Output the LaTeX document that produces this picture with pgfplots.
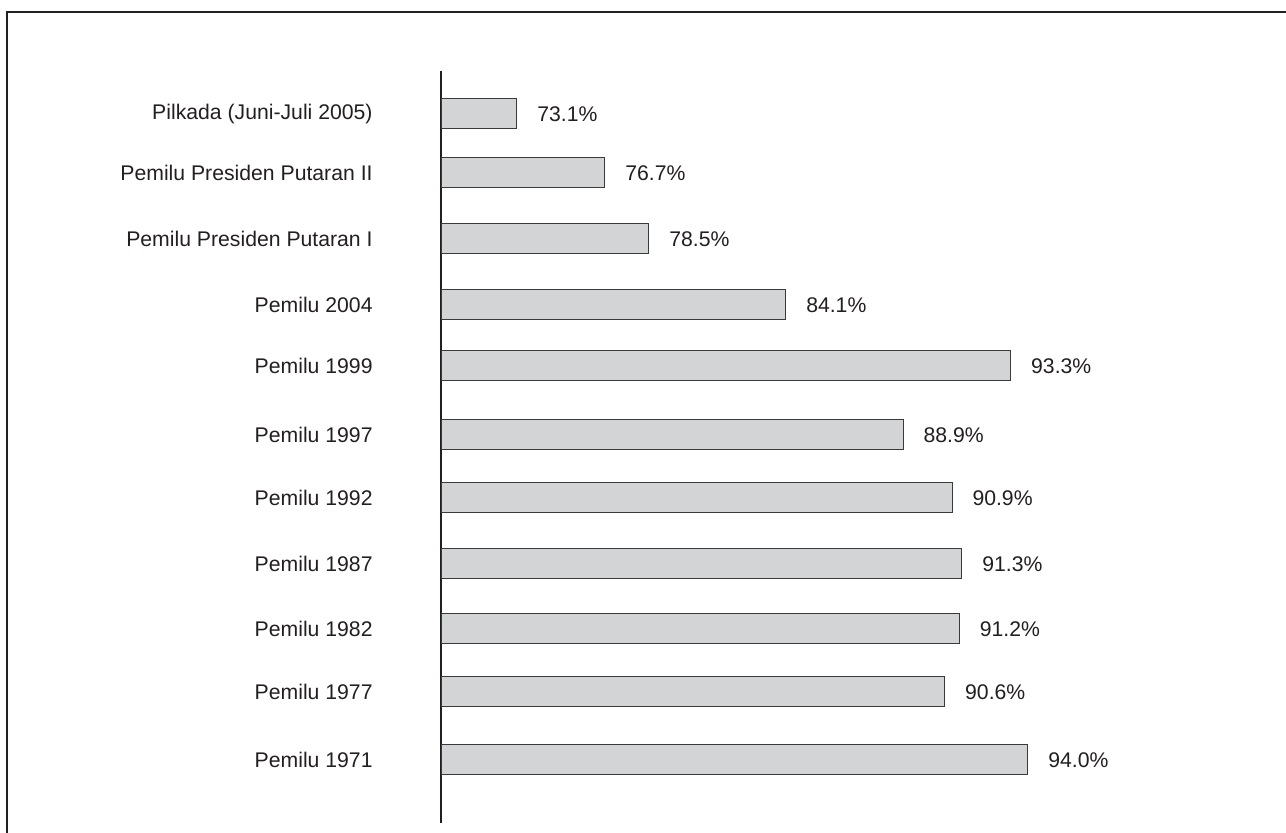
\documentclass[border=0pt]{standalone}
\usepackage{pgfplots}
\pgfplotsset{compat=1.18}
\usepackage{fontspec}
\setmainfont{Liberation Sans}
\definecolor{barfill}{HTML}{D3D4D6}
\definecolor{barline}{HTML}{3A3A3A}
\definecolor{ink}{HTML}{231F20}
\definecolor{axiscol}{HTML}{231F20}
\begin{document}
\begin{tikzpicture}
\begin{axis}[
  scale only axis,
  x=12.225pt, y=0.5pt, y dir=reverse,
  xmin=70, xmax=100, ymin=71, ymax=823,
  axis x line=none, axis y line*=left,
  axis line style={line width=1.1pt, draw=axiscol},
  xbar, bar width=15pt,
  major tick length=0pt,
  ytick style={draw=none},
  /pgf/number format/assume math mode=true,
  ytick={114,173,239,305,366,435,498,564,629,692,760},
  yticklabels={Pilkada (Juni-Juli 2005),Pemilu Presiden Putaran II,Pemilu Presiden Putaran I,Pemilu 2004,Pemilu 1999,Pemilu 1997,Pemilu 1992,Pemilu 1987,Pemilu 1982,Pemilu 1977,Pemilu 1971},
  yticklabel style={font=\fontsize{10.6}{12.7}\selectfont, text=ink, anchor=east, inner sep=0pt, xshift=-34pt},
  nodes near coords={\pgfmathprintnumber[fixed,fixed zerofill,precision=1,assume math mode=true]{\pgfplotspointmeta}\%},
  nodes near coords align=horizontal,
  every node near coord/.append style={font=\fontsize{10.6}{12.7}\selectfont, text=ink, anchor=west, inner sep=0pt, xshift=10pt},
  point meta=explicit,
]
\addplot[fill=barfill, draw=barline, line width=0.5pt] coordinates {
  (73.1,114) [73.1]
  (76.7,173) [76.7]
  (78.5,239) [78.5]
  (84.1,305) [84.1]
  (93.3,366) [93.3]
  (88.9,435) [88.9]
  (90.9,498) [90.9]
  (91.3,564) [91.3]
  (91.2,629) [91.2]
  (90.6,692) [90.6]
  (94.0,760) [94.0]
};
\coordinate (fTL) at (axis cs:52.249,12);
\coordinate (fBR) at (axis cs:106,850);
\coordinate (bbTL) at (axis cs:51.963,0);
\coordinate (bbBR) at (axis cs:104.56,833);
\end{axis}
\draw[line width=1.1pt, draw=axiscol] (fTL) rectangle (fBR);
\pgfresetboundingbox
\path[use as bounding box] (bbTL) rectangle (bbBR);
\end{tikzpicture}
\end{document}
